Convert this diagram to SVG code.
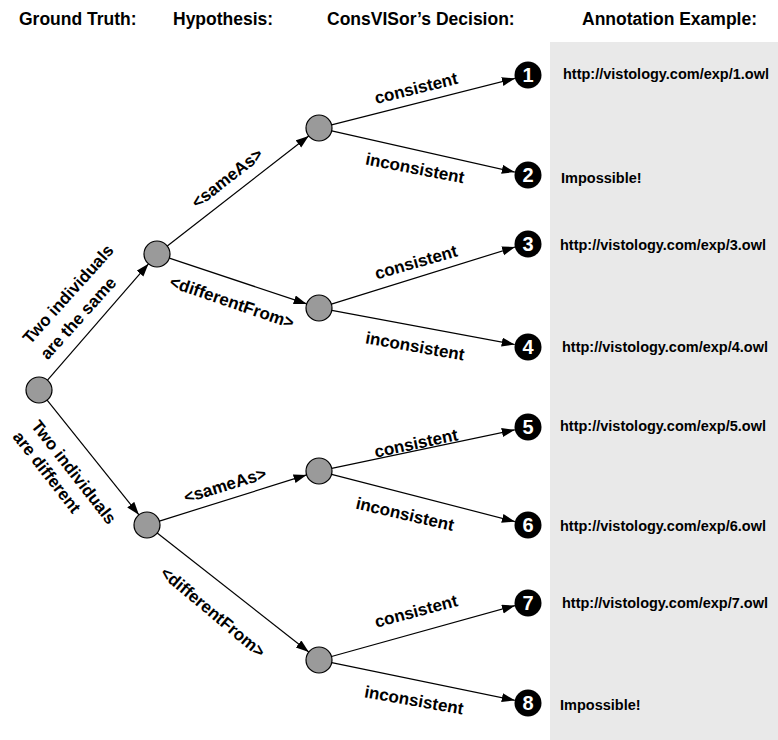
<svg xmlns="http://www.w3.org/2000/svg" width="778" height="740" viewBox="0 0 778 740">
<style>
text{font-family:"Liberation Sans",Arial,sans-serif;font-weight:bold;fill:#000}
.hdr{font-size:17.5px}
.lbl{font-size:17px;text-anchor:middle}
.url{font-size:14.5px}
.num{font-size:20px;fill:#fff;text-anchor:middle}
.node{fill:#9a9a9a;stroke:#000;stroke-width:1.2}
.dot{fill:#000}
.edge{stroke:#000;stroke-width:1.2;fill:none;marker-end:url(#arr)}
</style>
<defs>
<marker id="arr" markerUnits="userSpaceOnUse" markerWidth="14" markerHeight="10" refX="13" refY="4.5" orient="auto">
<path d="M0,0 L13,4.5 L0,9 z" fill="#000"/>
</marker>
</defs>
<rect width="778" height="740" fill="#fff"/>
<rect id="panel" x="550" y="42" width="228" height="698" fill="#e9e9e9"/>
<g id="headers">
<text class="hdr" x="19" y="25">Ground Truth:</text>
<text class="hdr" x="173" y="25">Hypothesis:</text>
<text class="hdr" x="327" y="25">ConsVISor’s Decision:</text>
<text class="hdr" x="582" y="25">Annotation Example:</text>
</g>
<g id="connectors">
<line class="edge" x1="47.5" y1="380.2" x2="148.5" y2="263.8"/>
<line class="edge" x1="47.1" y1="400.2" x2="138.9" y2="514.8"/>
<line class="edge" x1="167.3" y1="246" x2="308.7" y2="136"/>
<line class="edge" x1="169.3" y1="258.1" x2="306.7" y2="303.9"/>
<line class="edge" x1="159.4" y1="521.1" x2="306.6" y2="474.9"/>
<line class="edge" x1="157.2" y1="533" x2="308.8" y2="652"/>
<line class="edge" x1="331.6" y1="124.8" x2="514.9" y2="78.4"/>
<line class="edge" x1="331.7" y1="130.9" x2="514.8" y2="172.1"/>
<line class="edge" x1="331.4" y1="304.1" x2="515.1" y2="247"/>
<line class="edge" x1="331.8" y1="310.4" x2="514.7" y2="344.5"/>
<line class="edge" x1="331.7" y1="468.3" x2="514.8" y2="429.8"/>
<line class="edge" x1="331.6" y1="474.3" x2="514.9" y2="521.6"/>
<line class="edge" x1="331.5" y1="656.5" x2="515" y2="605.6"/>
<line class="edge" x1="331.7" y1="662.6" x2="514.8" y2="700.3"/>
<text class="lbl" transform="translate(68,294) rotate(-48)" dy="0.35em">Two individuals</text>
<text class="lbl" transform="translate(78,318) rotate(-48)" dy="0.35em">are the same</text>
<text class="lbl" transform="translate(74,472) rotate(52)" dy="0.35em">Two individuals</text>
<text class="lbl" transform="translate(47,472) rotate(52)" dy="0.35em">are different</text>
<text class="lbl" transform="translate(227,178) rotate(-38)" dy="0.35em">&lt;sameAs&gt;</text>
<text class="lbl" transform="translate(232,302) rotate(19)" dy="0.35em">&lt;differentFrom&gt;</text>
<text class="lbl" transform="translate(225,485) rotate(-17)" dy="0.35em">&lt;sameAs&gt;</text>
<text class="lbl" transform="translate(213,612) rotate(40)" dy="0.35em">&lt;differentFrom&gt;</text>
<text class="lbl" transform="translate(416,88) rotate(-14)" dy="0.35em">consistent</text>
<text class="lbl" transform="translate(415,168) rotate(11)" dy="0.35em">inconsistent</text>
<text class="lbl" transform="translate(416,262) rotate(-16)" dy="0.35em">consistent</text>
<text class="lbl" transform="translate(415,346) rotate(10)" dy="0.35em">inconsistent</text>
<text class="lbl" transform="translate(416,443) rotate(-12)" dy="0.35em">consistent</text>
<text class="lbl" transform="translate(405,514) rotate(13)" dy="0.35em">inconsistent</text>
<text class="lbl" transform="translate(416,611) rotate(-15)" dy="0.35em">consistent</text>
<text class="lbl" transform="translate(414,700) rotate(10)" dy="0.35em">inconsistent</text>
</g>
<g id="root"><circle class="node" cx="39" cy="390" r="13"/></g>
<g id="hypSame"><circle class="node" cx="157" cy="254" r="13"/></g>
<g id="hypDiff"><circle class="node" cx="147" cy="525" r="13"/></g>
<g id="sameSameAs"><circle class="node" cx="319" cy="128" r="13"/></g>
<g id="sameDiffFrom"><circle class="node" cx="319" cy="308" r="13"/></g>
<g id="diffSameAs"><circle class="node" cx="319" cy="471" r="13"/></g>
<g id="diffDiffFrom"><circle class="node" cx="319" cy="660" r="13"/></g>
<g id="out1"><circle class="dot" cx="528" cy="75" r="13.5"/><text class="num" x="528" y="75" dy="0.36em">1</text><text class="url" x="563" y="79">http://vistology.com/exp/1.owl</text></g>
<g id="out2"><circle class="dot" cx="528" cy="175" r="13.5"/><text class="num" x="528" y="175" dy="0.36em">2</text><text class="url" x="561" y="183">Impossible!</text></g>
<g id="out3"><circle class="dot" cx="528" cy="244" r="13.5"/><text class="num" x="528" y="244" dy="0.36em">3</text><text class="url" x="560" y="250">http://vistology.com/exp/3.owl</text></g>
<g id="out4"><circle class="dot" cx="528" cy="347" r="13.5"/><text class="num" x="528" y="347" dy="0.36em">4</text><text class="url" x="562" y="352">http://vistology.com/exp/4.owl</text></g>
<g id="out5"><circle class="dot" cx="528" cy="427" r="13.5"/><text class="num" x="528" y="427" dy="0.36em">5</text><text class="url" x="560" y="431">http://vistology.com/exp/5.owl</text></g>
<g id="out6"><circle class="dot" cx="528" cy="525" r="13.5"/><text class="num" x="528" y="525" dy="0.36em">6</text><text class="url" x="560" y="531">http://vistology.com/exp/6.owl</text></g>
<g id="out7"><circle class="dot" cx="528" cy="603" r="13.5"/><text class="num" x="528" y="603" dy="0.36em">7</text><text class="url" x="562" y="608">http://vistology.com/exp/7.owl</text></g>
<g id="out8"><circle class="dot" cx="528" cy="703" r="13.5"/><text class="num" x="528" y="703" dy="0.36em">8</text><text class="url" x="560" y="710">Impossible!</text></g>
</svg>
